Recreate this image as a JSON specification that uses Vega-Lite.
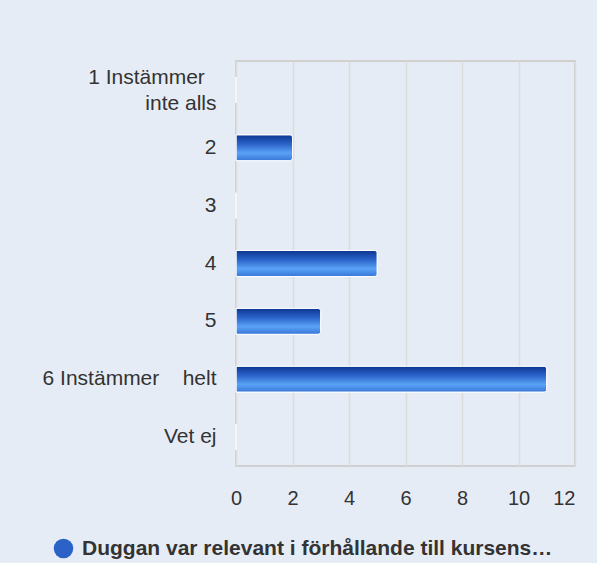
{
  "$schema": "https://vega.github.io/schema/vega-lite/v6.json",
  "width": 339,
  "height": 405,
  "padding": {"left": 236, "top": 61, "right": 22, "bottom": 97},
  "autosize": {"type": "none"},
  "background": "#e6ecf6",
  "config": {
    "font": "Liberation Sans",
    "view": {"stroke": "#d0d0d0", "strokeWidth": 2},
    "axis": {"labelFont": "Liberation Sans", "labelColor": "#333333", "labelFontSize": 20}
  },
  "data": {
    "values": [
      {"kategori": "1 Instämmer inte alls", "antal": 0, "serie": "Duggan var relevant i förhållande till kursens…"},
      {"kategori": "2", "antal": 2, "serie": "Duggan var relevant i förhållande till kursens…"},
      {"kategori": "3", "antal": 0, "serie": "Duggan var relevant i förhållande till kursens…"},
      {"kategori": "4", "antal": 5, "serie": "Duggan var relevant i förhållande till kursens…"},
      {"kategori": "5", "antal": 3, "serie": "Duggan var relevant i förhållande till kursens…"},
      {"kategori": "6 Instämmer helt", "antal": 11, "serie": "Duggan var relevant i förhållande till kursens…"},
      {"kategori": "Vet ej", "antal": 0, "serie": "Duggan var relevant i förhållande till kursens…"}
    ]
  },
  "encoding": {
    "y": {
      "field": "kategori",
      "type": "nominal",
      "sort": null,
      "title": null,
      "scale": {"paddingInner": 0.55, "paddingOuter": 0.275},
      "axis": {
        "domain": false,
        "ticks": false,
        "labelFontSize": 21,
        "labelPadding": 20,
        "labelLineHeight": 26,
        "labelLimit": 300,
        "labelOffset": {"condition": {"test": "datum.value == '1 Instämmer inte alls'", "value": -12}, "value": 0},
        "labelExpr": "datum.value == '1 Instämmer inte alls' ? ['1 Instämmer\u00a0\u00a0\u200b', 'inte alls'] : (datum.value == '6 Instämmer helt' ? '6 Instämmer\u00a0\u00a0\u00a0\u00a0helt' : datum.value)"
      }
    },
    "x": {
      "field": "antal",
      "type": "quantitative",
      "title": null,
      "scale": {"domain": [0, 12], "nice": false},
      "axis": {
        "values": [0, 2, 4, 6, 8, 10, 12],
        "domain": false,
        "ticks": false,
        "labelPadding": 22,
        "labelFlush": false,
        "labelAlign": {"condition": {"test": "datum.value == 12", "value": "right"}, "value": "center"},
        "grid": true,
        "gridColor": "#dcdcdc",
        "gridWidth": 1.5
      }
    }
  },
  "layer": [
    {
      "mark": {
        "type": "bar",
        "cornerRadiusEnd": 3,
        "stroke": "white",
        "strokeWidth": 1,
        "color": {
          "gradient": "linear",
          "x1": 0, "y1": 0, "x2": 0, "y2": 1,
          "stops": [
            {"offset": 0, "color": "#0c3590"},
            {"offset": 0.35, "color": "#2a62c8"},
            {"offset": 0.7, "color": "#5aa2f6"},
            {"offset": 1, "color": "#3676d8"}
          ]
        }
      }
    },
    {
      "mark": {"type": "point", "filled": true, "opacity": 0, "size": 1, "color": "#2a62c8"},
      "encoding": {
        "shape": {
          "field": "serie",
          "type": "nominal",
          "title": null,
          "scale": {"range": ["circle"]},
          "legend": {
            "orient": "none",
            "legendX": -183,
            "legendY": 477,
            "symbolSize": 380,
            "labelFontSize": 21,
            "labelFontWeight": "bold",
            "labelColor": "#333333",
            "labelLimit": 600,
            "labelOffset": 8,
            "encode": {
              "symbols": {
                "update": {
                  "fill": {"value": {
                    "gradient": "linear",
                    "x1": 0, "y1": 0, "x2": 1, "y2": 0,
                    "stops": [
                      {"offset": 0, "color": "#3a7ad8"},
                      {"offset": 0.3, "color": "#5a9ef0"},
                      {"offset": 1, "color": "#0a2e8a"}
                    ]
                  }},
                  "stroke": {"value": "transparent"},
                  "opacity": {"value": 1}
                }
              }
            }
          }
        }
      }
    }
  ]
}
